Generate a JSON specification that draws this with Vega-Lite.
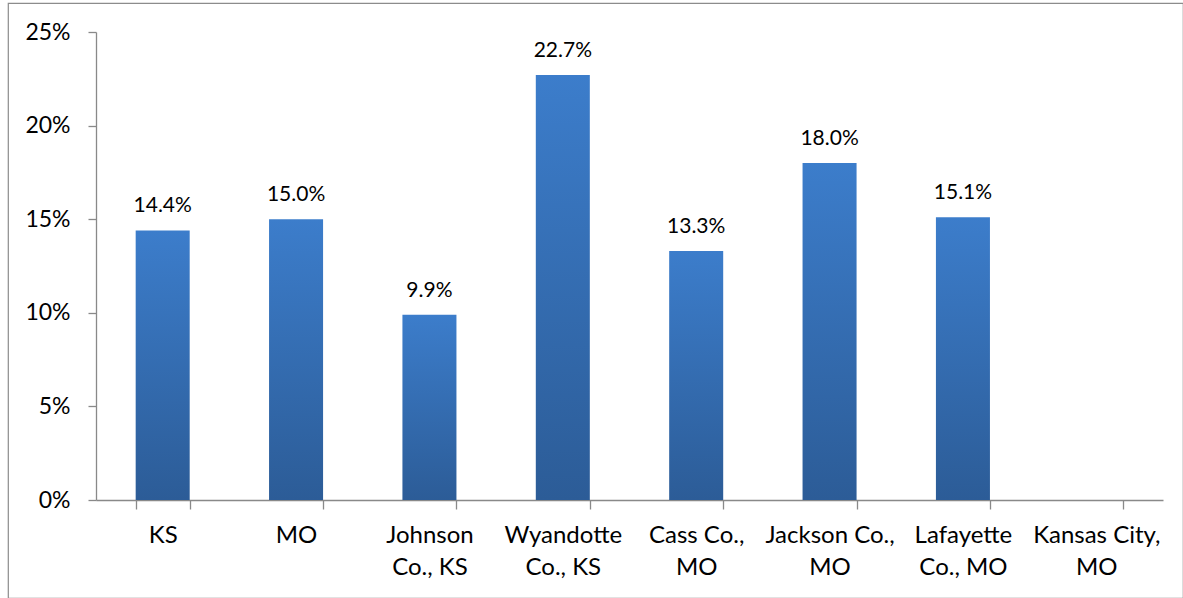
{
  "$schema": "https://vega.github.io/schema/vega-lite/v6.json",
  "width": 1175,
  "height": 595,
  "autosize": {"type": "none"},
  "padding": {"left": 8, "top": 3, "right": 0, "bottom": 0},
  "config": {
    "view": {"stroke": "#8c8c8c", "strokeWidth": 1.2},
    "font": "Lato"
  },
  "data": {
    "values": [
      {"area": "KS", "rate": 0.144},
      {"area": "MO", "rate": 0.150},
      {"area": "Johnson|Co., KS", "rate": 0.099},
      {"area": "Wyandotte|Co., KS", "rate": 0.227},
      {"area": "Cass Co.,|MO", "rate": 0.133},
      {"area": "Jackson Co.,|MO", "rate": 0.180},
      {"area": "Lafayette|Co., MO", "rate": 0.151},
      {"area": "Kansas City,|MO", "rate": null}
    ]
  },
  "encoding": {
    "x": {
      "field": "area",
      "type": "nominal",
      "sort": null,
      "scale": {
        "domain": ["KS", "MO", "Johnson|Co., KS", "Wyandotte|Co., KS", "Cass Co.,|MO", "Jackson Co.,|MO", "Lafayette|Co., MO", "Kansas City,|MO"],
        "range": [88, 1155],
        "paddingInner": 0.595,
        "paddingOuter": 0.2975
      },
      "axis": {
        "title": null,
        "labelExpr": "isValid(datum.value) ? split(datum.value, '|') : ''",
        "labelAngle": 0,
        "tickBand": "extent",
        "tickSize": 9,
        "tickColor": "#898989",
        "domainColor": "#898989",
        "domainWidth": 1.3,
        "tickWidth": 1.3,
        "labelFontSize": 24,
        "labelColor": "#000000",
        "labelPadding": 14,
        "labelLineHeight": 32,
        "offset": -98
      }
    },
    "y": {
      "field": "rate",
      "type": "quantitative",
      "scale": {"domain": [0, 0.25], "range": [497, 29], "nice": false},
      "axis": {
        "title": null,
        "values": [0, 0.05, 0.1, 0.15, 0.2, 0.25],
        "format": ".0%",
        "grid": false,
        "tickSize": 8,
        "tickColor": "#898989",
        "domainColor": "#898989",
        "domainWidth": 1.3,
        "tickWidth": 1.3,
        "labelFontSize": 23,
        "labelColor": "#000000",
        "labelPadding": 18,
        "offset": -88
      }
    }
  },
  "layer": [
    {
      "mark": {
        "type": "bar",
        "color": {
          "gradient": "linear",
          "x1": 0, "y1": 0, "x2": 0, "y2": 1,
          "stops": [
            {"offset": 0, "color": "#3c7dcb"},
            {"offset": 1, "color": "#2c5c97"}
          ]
        }
      }
    },
    {
      "mark": {"type": "text", "baseline": "alphabetic", "dy": -18, "fontSize": 21, "color": "#000000"},
      "encoding": {"text": {"field": "rate", "format": ".1%"}}
    }
  ]
}
